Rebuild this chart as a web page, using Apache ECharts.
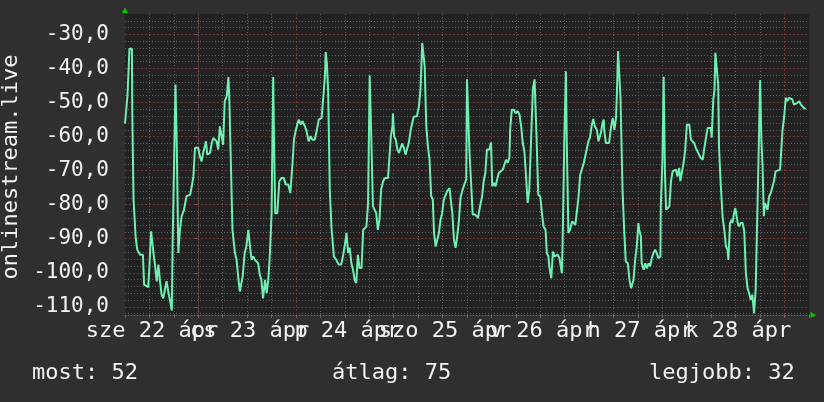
<!DOCTYPE html>
<html>
<head>
<meta charset="utf-8">
<script src="https://cdn.jsdelivr.net/npm/echarts@6/dist/echarts.min.js"></script>
<style>
html,body{margin:0;padding:0;background:#2f2f2f;}
#c{width:824px;height:402px;}
</style>
</head>
<body>
<div id="c"></div>
<script>
// hours relative to 22 Apr 00:00, value
const readings = [
[-18.0,-56.2],[-17.6,-56.2],[-17.4,-48.1],[-17.2,-48.1],[-16.9,-34.2],[-16.3,-34.2],[-16.2,-54.0],[-15.9,-78.5],
[-15.4,-89.3],[-15.0,-93.2],[-14.3,-94.7],[-13.6,-94.7],[-13.3,-103.5],[-12.3,-104.2],[-12.0,-98.1],[-11.6,-87.8],
[-11.0,-94.2],[-10.6,-98.1],[-10.2,-102.5],[-9.8,-97.6],[-9.4,-102.5],[-9.0,-106.5],[-8.6,-107.5],[-8.2,-105.0],
[-7.8,-102.5],[-7.3,-106.0],[-6.9,-108.4],[-6.5,-111.1],[-6.3,-91.3],[-5.6,-44.7],[-5.3,-61.4],[-4.9,-94.2],
[-4.5,-87.4],[-4.1,-83.4],[-3.5,-81.5],[-2.9,-77.5],[-2.0,-77.1],[-1.6,-74.6],[-1.2,-71.7],[-0.8,-63.3],
[0.0,-63.3],[0.4,-65.8],[0.8,-67.3],[1.2,-64.8],[1.9,-61.4],[2.2,-65.3],[2.9,-64.8],[3.3,-61.9],[3.7,-60.4],
[4.5,-61.4],[4.9,-63.8],[5.3,-57.0],[5.7,-56.5],[6.1,-62.4],[6.5,-49.6],[7.0,-48.1],[7.4,-42.5],[7.6,-48.1],
[8.0,-67.7],[8.4,-87.4],[9.0,-94.2],[9.4,-96.2],[9.8,-101.1],[10.2,-105.5],[10.9,-101.1],[11.4,-94.2],[11.8,-92.3],
[12.3,-87.4],[12.7,-92.3],[13.1,-96.2],[13.5,-95.2],[13.9,-96.2],[14.3,-95.7],[14.7,-97.2],[15.1,-100.6],[15.5,-102.1],
[15.9,-107.5],[16.4,-102.1],[16.8,-106.0],[17.2,-102.1],[17.6,-94.2],[18.0,-82.5],[18.4,-42.5],[18.6,-60.9],[18.9,-82.5],
[19.4,-82.5],[19.9,-73.1],[20.4,-72.2],[21.0,-72.2],[21.5,-74.1],[22.1,-74.1],[22.6,-76.6],[23.1,-68.7],[23.5,-60.9],
[23.9,-58.4],[24.3,-56.5],[24.7,-55.0],[25.2,-56.5],[25.6,-55.5],[26.2,-57.0],[26.6,-58.4],[27.1,-61.4],[27.6,-59.9],
[28.0,-60.9],[28.6,-60.9],[29.0,-58.9],[29.6,-55.0],[30.3,-54.5],[30.7,-48.6],[31.1,-42.3],[31.3,-35.2],[31.6,-38.8],
[31.9,-46.7],[32.3,-75.6],[32.7,-86.4],[33.3,-95.2],[33.9,-96.2],[34.5,-97.6],[35.1,-97.6],[35.6,-94.7],[36.0,-91.8],
[36.4,-88.3],[36.8,-94.2],[37.2,-92.7],[37.6,-97.2],[38.0,-99.1],[38.4,-102.1],[38.8,-103.0],[39.2,-94.7],[39.6,-98.6],
[40.1,-98.6],[40.5,-87.4],[40.9,-86.9],[41.3,-86.4],[41.7,-79.5],[42.1,-42.1],[42.5,-60.9],[42.9,-80.5],[43.3,-81.0],
[43.7,-82.5],[44.1,-87.4],[44.5,-84.4],[44.9,-75.6],[45.4,-73.1],[45.8,-72.2],[46.6,-72.2],[46.8,-68.7],[47.3,-59.9],
[47.7,-57.0],[47.8,-53.2],[48.1,-59.9],[48.5,-60.9],[48.9,-63.8],[49.3,-64.8],[49.7,-63.3],[50.1,-62.1],[50.5,-63.3],
[50.9,-65.3],[51.3,-65.8],[51.7,-61.9],[52.2,-57.9],[52.6,-57.5],[52.9,-54.2],[53.3,-53.8],[53.7,-54.0],[54.2,-51.1],
[54.6,-45.7],[55.0,-32.5],[55.3,-32.5],[55.6,-39.3],[56.0,-57.0],[56.4,-62.8],[56.8,-66.8],[57.2,-77.5],[57.6,-78.5],
[57.9,-88.3],[58.3,-92.3],[58.7,-92.3],[59.1,-88.3],[59.5,-84.4],[59.9,-82.5],[60.3,-78.5],[60.7,-79.0],[61.1,-76.1],
[61.7,-75.1],[62.1,-79.5],[62.4,-82.5],[62.8,-90.3],[63.2,-92.7],[63.6,-89.3],[64.0,-84.9],[64.4,-78.0],[64.8,-76.1],
[65.2,-74.6],[65.8,-72.6],[66.0,-43.2],[66.4,-43.2],[66.6,-64.3],[67.0,-73.6],[67.4,-82.9],[68.0,-82.9],[68.7,-83.9],
[69.2,-80.5],[69.7,-77.6],[70.1,-73.1],[70.5,-70.7],[70.9,-63.8],[71.5,-63.8],[71.9,-61.7],[72.2,-74.6],[72.6,-73.6],
[73.0,-74.6],[73.4,-74.6],[73.8,-70.7],[74.2,-70.2],[74.8,-69.7],[75.2,-68.2],[75.6,-66.8],[76.0,-67.7],[76.4,-66.3],
[76.6,-58.0],[77.0,-52.1],[77.5,-52.1],[77.9,-53.1],[78.5,-52.6],[78.9,-53.6],[79.3,-57.0],[79.7,-61.9],[80.1,-64.3],
[80.5,-71.7],[80.9,-79.5],[81.3,-75.6],[81.8,-58.9],[82.2,-45.7],[82.6,-43.2],[82.8,-42.7],[83.1,-60.9],[83.5,-77.1],
[84.0,-77.6],[84.4,-82.5],[84.8,-86.4],[85.3,-87.4],[85.6,-94.2],[86.0,-95.2],[86.2,-98.1],[86.7,-101.6],[87.1,-93.8],
[87.5,-95.2],[87.9,-95.2],[88.3,-94.7],[88.7,-95.7],[88.9,-95.2],[89.3,-100.1],[89.5,-90.3],[89.9,-60.9],[90.3,-40.8],
[90.5,-60.9],[90.9,-88.3],[91.3,-87.4],[91.8,-84.9],[92.2,-85.4],[92.6,-85.9],[93.0,-81.9],[93.4,-77.6],[93.8,-71.2],
[94.2,-69.7],[94.7,-67.7],[95.1,-67.3],[95.4,-63.8],[95.8,-61.4],[96.2,-60.3],[96.6,-57.0],[97.0,-54.8],[97.4,-57.0],
[97.9,-58.0],[98.3,-61.4],[98.5,-61.9],[98.9,-58.9],[99.3,-55.9],[99.6,-55.0],[99.7,-58.0],[100.1,-61.9],[100.5,-61.7],
[100.9,-61.9],[101.4,-57.0],[101.8,-54.5],[102.2,-58.0],[102.6,-54.5],[102.8,-48.1],[103.1,-34.9],[103.4,-34.9],[103.7,-48.6],
[104.0,-49.1],[104.2,-75.6],[104.6,-87.4],[105.0,-96.7],[105.5,-97.2],[105.9,-102.1],[106.3,-104.5],[106.7,-104.5],[106.9,-102.1],
[107.3,-96.2],[107.7,-92.3],[108.1,-85.4],[108.3,-87.4],[108.7,-89.3],[108.9,-97.2],[109.4,-99.1],[109.8,-97.2],[110.2,-98.7],
[110.6,-97.2],[111.0,-98.1],[111.4,-95.7],[111.8,-94.2],[112.2,-93.2],[112.6,-94.2],[113.0,-95.7],[113.5,-95.2],[113.6,-80.5],
[114.0,-66.8],[114.3,-42.4],[114.6,-69.7],[114.9,-81.5],[115.3,-82.0],[115.7,-80.5],[116.1,-73.1],[116.5,-70.2],[116.9,-70.7],
[117.3,-69.7],[117.7,-71.7],[118.1,-69.2],[118.4,-73.1],[118.8,-72.6],[119.2,-67.7],[119.6,-63.8],[120.0,-56.5],[120.6,-56.5],
[121.0,-60.9],[121.4,-61.4],[121.8,-61.9],[122.2,-63.3],[122.6,-64.3],[123.0,-65.3],[123.4,-66.3],[123.9,-66.8],[124.3,-63.3],
[124.7,-60.3],[125.1,-57.5],[125.5,-57.5],[125.9,-57.5],[126.1,-60.3],[126.5,-49.1],[126.8,-46.2],[127.0,-35.4],[127.4,-35.4],
[127.7,-44.7],[127.9,-63.3],[128.3,-73.6],[128.8,-83.9],[129.2,-87.4],[129.6,-92.3],[130.0,-93.2],[130.2,-96.2],[130.6,-85.4],
[131.0,-84.4],[131.2,-85.4],[131.6,-82.5],[131.9,-81.0],[132.2,-80.5],[132.5,-85.4],[132.8,-86.4],[133.2,-85.4],[133.7,-85.4],
[134.1,-87.8],[134.5,-100.1],[134.9,-104.5],[135.3,-106.0],[135.7,-108.0],[136.1,-106.5],[136.5,-111.9],[136.9,-105.0],[137.3,-83.4],
[137.7,-60.9],[138.0,-43.4],[138.3,-60.9],[138.6,-68.7],[138.9,-83.4],[139.2,-79.5],[139.5,-79.0],[139.8,-81.5],[140.2,-77.6],
[140.6,-76.6],[141.0,-76.6],[141.4,-73.1],[141.8,-70.2],[142.2,-69.7],[142.9,-69.7],[143.3,-70.2],[143.5,-58.0],[143.9,-54.1],
[144.3,-48.6],[144.7,-49.6],[145.1,-48.6],[145.5,-48.1],[145.9,-49.1],[146.3,-50.6],[146.7,-51.1],[147.1,-50.1],[147.6,-49.6],
[148.0,-50.6],[148.4,-51.1],[148.8,-51.6],[149.2,-51.9]
];

const dayLabelHours = [-12, 12, 36, 60, 84, 108, 132];
const dayLabels = ['sze 22 ápr', 'cs 23 ápr', 'p 24 ápr', 'szo 25 ápr', 'v 26 ápr', 'h 27 ápr', 'k 28 ápr'];
const dayLines = [0, 24, 48, 72, 96, 120, 144];
const yMajorTicks = [-110, -100, -90, -80, -70, -60, -50, -40, -30];
const yAxisTitle = 'onlinestream.live';
const summaryTexts = ['most: 52', 'átlag: 75', 'legjobb: 32'];

const X_MIN = -18, X_MAX = 150, Y_MIN = -112.4, Y_MAX = -24;
const FONT = 'DejaVu Sans Mono';
const TXT = '#f2f2f2';
const GRAY = '#5e5e5e';
const RED = '#743434';

const labelMap = {};
dayLabelHours.forEach((h, i) => { labelMap[h] = dayLabels[i]; });

// minor grid lines
const vMinor = [];
for (let h = X_MIN + 6; h < X_MAX; h += 6) if (dayLines.indexOf(h) < 0) vMinor.push(h);
const hMinor = [];
for (let v = -112; v < Y_MAX; v += 2) if (v % 10 !== 0) hMinor.push(v);

const gridMarks = [];
vMinor.forEach(h => gridMarks.push({xAxis: h, lineStyle: {color: GRAY, type: [1, 2], width: 1}}));
hMinor.forEach(v => gridMarks.push({yAxis: v, lineStyle: {color: GRAY, type: [1, 2], width: 1}}));
dayLines.forEach(h => gridMarks.push({xAxis: h, lineStyle: {color: RED, type: [2, 2], width: 1}}));
yMajorTicks.forEach(v => gridMarks.push({yAxis: v, lineStyle: {color: RED, type: [2, 2], width: 1}}));

const G = {left: 125, top: 14, right: 15, bottom: 87};
const txtStyle = (s, x, y, align) => ({type: 'text', x: x, y: y,
  style: {text: s, fill: TXT, font: '22px "' + FONT + '"', align: align, verticalAlign: 'middle'}});

const chart = echarts.init(document.getElementById('c'), null, {renderer: 'canvas'});
chart.setOption({
  animation: false,
  backgroundColor: '#2f2f2f',
  grid: {left: G.left, top: G.top, right: G.right, bottom: G.bottom, show: true, backgroundColor: '#222222', borderWidth: 0},
  xAxis: {
    type: 'value', min: X_MIN, max: X_MAX, interval: 6,
    axisLine: {show: true, lineStyle: {color: '#666', type: [1, 2], width: 1}},
    axisTick: {show: true, length: 3, lineStyle: {color: '#666'}},
    splitLine: {show: false},
    axisLabel: {
      show: true, margin: 5, color: TXT, fontFamily: FONT, fontSize: 22,
      padding: [0, 0, 0, 5],
      showMinLabel: true, showMaxLabel: true, hideOverlap: false,
      formatter: v => (labelMap[v] !== undefined ? labelMap[v] : '')
    }
  },
  yAxis: {
    type: 'value', min: Y_MIN, max: Y_MAX, splitNumber: 9,
    axisLine: {show: true, lineStyle: {color: '#666', type: [1, 2], width: 1}},
    axisTick: {show: true, length: 3, lineStyle: {color: '#666'}},
    splitLine: {show: false},
    axisLabel: {
      show: true, margin: 16, color: TXT, fontFamily: FONT, fontSize: 21,
      showMinLabel: false, showMaxLabel: false,
      formatter: v => (yMajorTicks.indexOf(Math.round(v)) >= 0 && Math.abs(v - Math.round(v)) < 1e-6 ? v.toFixed(1).replace('.', ',') : '')
    }
  },
  graphic: [
    {type: 'text', x: 11.5, y: 167, rotation: Math.PI / 2,
     style: {text: yAxisTitle, fill: TXT, font: '22px "' + FONT + '"', align: 'center', verticalAlign: 'middle'}},
    txtStyle(summaryTexts[0], 32, 373, 'left'),
    txtStyle(summaryTexts[1], 332, 373, 'left'),
    txtStyle(summaryTexts[2], 649, 373, 'left'),
    {type: 'polygon', shape: {points: [[122, 13], [128, 13], [125, 7.5]]}, style: {fill: '#00cc00'}},
    {type: 'polygon', shape: {points: [[810.5, 312], [810.5, 318], [816, 315]]}, style: {fill: '#00cc00'}}
  ],
  series: [
    {
      type: 'line', data: [], silent: true, z: 1,
      markLine: {silent: true, symbol: 'none', z: 1, label: {show: false}, animation: false, data: gridMarks}
    },
    {
      type: 'line', z: 3, data: readings, showSymbol: false, smooth: false, silent: true,
      lineStyle: {color: '#6ff0b2', width: 2}
    }
  ]
});
</script>
</body>
</html>
